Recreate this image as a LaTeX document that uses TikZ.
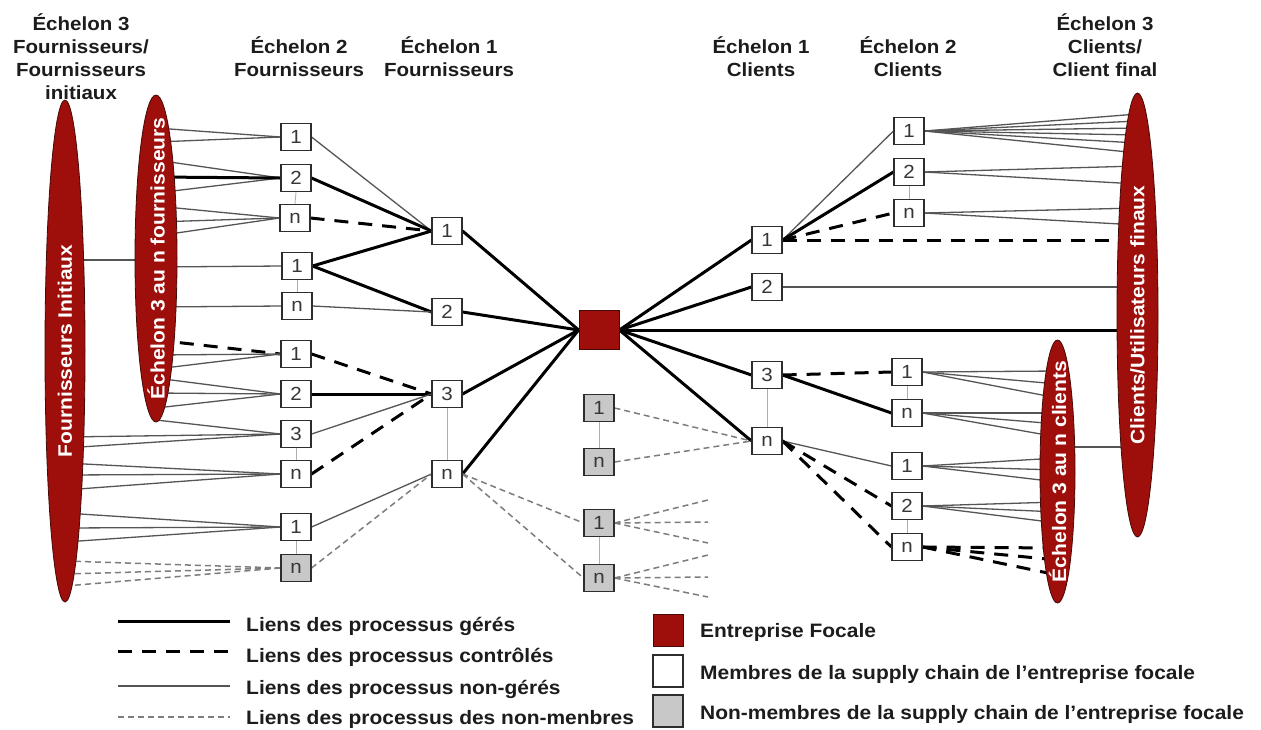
\documentclass[tikz,border=0pt]{standalone}
\usepackage{fontspec}
\setmainfont{Liberation Sans}[FakeStretch=1.08]
\usetikzlibrary{shapes.geometric}

\definecolor{focal}{RGB}{158,14,10}
\definecolor{lensline}{RGB}{70,10,8}
\definecolor{inktext}{RGB}{28,28,28}
\definecolor{numtext}{RGB}{55,55,55}
\definecolor{boxline}{RGB}{45,45,45}
\definecolor{grayfill}{RGB}{200,200,200}
\definecolor{thinc}{RGB}{85,85,85}
\definecolor{graydash}{RGB}{125,125,125}
\definecolor{tiec}{RGB}{175,175,175}

\newcommand\hdfont{\fontsize{19}{23}\selectfont\bfseries}
\newcommand\lgfont{\fontsize{19.4}{23}\selectfont\bfseries}
\newcommand\numfont{\fontsize{19}{23}\selectfont}
\newcommand\lensfont{\fontsize{19.5}{23}\selectfont\bfseries}

\pgfdeclarelayer{paper}
\pgfdeclarelayer{links}
\pgfsetlayers{paper,links,main}

% lines from several points of a lens into the west side of a box
\newcommand\fanin[4]{%
  \foreach \yy in {#4}{%
    \coordinate (aux) at (0,\yy);
    \coordinate (#1-\yy) at (#1.center |- aux);
    \draw[#3] (#1-\yy) -- (#2.west);
  }}
% lines from the east side of a box out to several points of a lens
\newcommand\fanout[4]{%
  \foreach \yy in {#4}{%
    \coordinate (aux) at (0,\yy);
    \coordinate (#2-\yy) at (#2.center |- aux);
    \draw[#3] (#1.east) -- (#2-\yy);
  }}

\begin{document}
\begin{tikzpicture}[x=1pt,y=-1pt,
  box/.style={draw=boxline, fill=white, line width=1.1pt, minimum width=30pt,
    minimum height=27pt, inner sep=0pt, font=\numfont, text=numtext},
  gbox/.style={box, fill=grayfill},
  lens/.style={ellipse, draw=lensline, fill=focal, line width=0.8pt, inner sep=0pt},
  lenslabel/.style={rotate=90, text=white, font=\lensfont, inner sep=0pt},
  header/.style={font=\hdfont, text=inktext, anchor=base, inner sep=0pt},
  legendtext/.style={font=\lgfont, text=inktext, anchor=base west, inner sep=0pt},
  managed/.style={line width=3pt, draw=black},
  controlled/.style={line width=3pt, draw=black, dash pattern=on 14pt off 10pt},
  unmanaged/.style={line width=1.3pt, draw=thinc},
  nonmember/.style={line width=1.5pt, draw=graydash, dash pattern=on 6pt off 4pt},
  tie/.style={line width=0.8pt, draw=tiec}]

\useasboundingbox (0,0) rectangle (1261,729);
\begin{pgfonlayer}{paper}
  \fill[white] (0,0) rectangle (1261,729);
\end{pgfonlayer}

% ---------- column headers ----------
\node[header] (h1a) at (81,30) {Échelon 3};
\node[header] (h1b) at (81,53) {Fournisseurs/};
\node[header] (h1c) at (81,76) {Fournisseurs};
\node[header] (h1d) at (81,99) {initiaux};
\node[header] (h2a) at (299,53) {Échelon 2};
\node[header] (h2b) at (299,76) {Fournisseurs};
\node[header] (h3a) at (449,53) {Échelon 1};
\node[header] (h3b) at (449,76) {Fournisseurs};
\node[header] (h4a) at (761,53) {Échelon 1};
\node[header] (h4b) at (761,76) {Clients};
\node[header] (h5a) at (908,53) {Échelon 2};
\node[header] (h5b) at (908,76) {Clients};
\node[header] (h6a) at (1105,30) {Échelon 3};
\node[header] (h6b) at (1105,53) {Clients/};
\node[header] (h6c) at (1105,76) {Client final};

% ---------- lenses ----------
\node[lens, minimum width=40pt, minimum height=502pt] (fi) at (65,351) {};
\node[lenslabel] (fi-t) at (fi.center) {Fournisseurs Initiaux};
\node[lens, minimum width=42pt, minimum height=327pt] (e3f) at (156,258.5) {};
\node[lenslabel] (e3f-t) at (e3f.center) {Échelon 3 au n fournisseurs};
\node[lens, minimum width=41pt, minimum height=444pt] (cu) at (1137.5,315) {};
\node[lenslabel] (cu-t) at (cu.center) {Clients/Utilisateurs finaux};
\node[lens, minimum width=35pt, minimum height=263pt] (e3c) at (1057.5,471.5) {};
\node[lenslabel] (e3c-t) at (e3c.center) {Échelon 3 au n clients};

% ---------- tier 2 suppliers ----------
\node[box] (s2a) at (296,137) {1};
\node[box] (s2b) at (296,178) {2};
\node[box] (s2c) at (295,218) {n};
\node[box] (s2d) at (297,266) {1};
\node[box] (s2e) at (297,306) {n};
\node[box] (s2f) at (296,354) {1};
\node[box] (s2g) at (296,394) {2};
\node[box] (s2h) at (296,434) {3};
\node[box] (s2i) at (296,474) {n};
\node[box] (s2j) at (296,527) {1};
\node[gbox] (s2k) at (296,568) {n};

% ---------- tier 1 suppliers ----------
\node[box] (s1a) at (447,231) {1};
\node[box] (s1b) at (447,312) {2};
\node[box] (s1c) at (447,394) {3};
\node[box] (s1d) at (447,474) {n};

% ---------- focal company ----------
\node[draw=lensline, fill=focal, line width=0.8pt, minimum width=40pt, minimum height=39pt, inner sep=0pt] (focal) at (599,330) {};

% ---------- non-members ----------
\node[gbox] (g1) at (599,408) {1};
\node[gbox] (g2) at (599,462) {n};
\node[gbox] (g3) at (599,523) {1};
\node[gbox] (g4) at (599,578) {n};

% ---------- tier 1 customers ----------
\node[box] (c1a) at (767,240) {1};
\node[box] (c1b) at (767,287) {2};
\node[box] (c1c) at (767,375) {3};
\node[box] (c1d) at (767,441) {n};

% ---------- tier 2 customers ----------
\node[box] (c2a) at (909,131) {1};
\node[box] (c2b) at (909,172) {2};
\node[box] (c2c) at (909,213) {n};
\node[box] (c2d) at (907,372) {1};
\node[box] (c2e) at (907,413) {n};
\node[box] (c2f) at (907,466) {1};
\node[box] (c2g) at (907,506) {2};
\node[box] (c2h) at (907,547) {n};

% ---------- free ends of the non-member fans ----------
\coordinate (o1) at (708,500);
\coordinate (o2) at (708,522);
\coordinate (o3) at (708,543);
\coordinate (o4) at (708,555);
\coordinate (o5) at (708,577);
\coordinate (o6) at (708,597);

\begin{pgfonlayer}{links}
  % group ties
  \foreach \a/\b in {s2b/s2c, s2d/s2e, s2h/s2i, s2j/s2k, s1c/s1d, g1/g2, g3/g4,
                     c1c/c1d, c2b/c2c, c2d/c2e, c2g/c2h}
    \draw[tie] (\a.south) -- (\b.north);

  % tier 3 suppliers to tier 2
  \fanin{e3f}{s2a}{unmanaged}{128,142}
  \fanin{e3f}{s2b}{unmanaged}{160,193}
  \fanin{e3f}{s2b}{managed}{177}
  \fanin{e3f}{s2c}{unmanaged}{206,222,236}
  \fanin{e3f}{s2d}{unmanaged}{267}
  \fanin{e3f}{s2e}{unmanaged}{307}
  \fanin{e3f}{s2f}{controlled}{340}
  \fanin{e3f}{s2f}{unmanaged}{355,369}
  \fanin{e3f}{s2g}{unmanaged}{378,393,408}
  \fanin{e3f}{s2h}{unmanaged}{420}
  \fanin{fi}{s2h}{unmanaged}{437,448}
  \fanin{fi}{s2i}{unmanaged}{463,475,490}
  \fanin{fi}{s2j}{unmanaged}{513,528,542}
  \fanin{fi}{s2k}{nonmember}{561,574,586}
  \coordinate (aux) at (0,260);
  \coordinate (fi-260) at (fi.center |- aux);
  \coordinate (e3f-260) at (e3f.center |- aux);
  \draw[unmanaged] (fi-260) -- (e3f-260);

  % tier 2 to tier 1 suppliers
  \draw[unmanaged]  (s2a.east) -- (s1a.west);
  \draw[managed]    (s2b.east) -- (s1a.west);
  \draw[controlled] (s2c.east) -- (s1a.west);
  \draw[managed]    (s2d.east) -- (s1a.west);
  \draw[managed]    (s2d.east) -- (s1b.west);
  \draw[unmanaged]  (s2e.east) -- (s1b.west);
  \draw[controlled] (s2f.east) -- (s1c.west);
  \draw[managed]    (s2g.east) -- (s1c.west);
  \draw[unmanaged]  (s2h.east) -- (s1c.west);
  \draw[controlled] (s2i.east) -- (s1c.west);
  \draw[unmanaged]  (s2j.east) -- (s1d.west);
  \draw[nonmember]  (s2k.east) -- (s1d.west);

  % tier 1 suppliers to focal company to tier 1 customers
  \foreach \s in {s1a,s1b,s1c,s1d} \draw[managed] (\s.east) -- (focal.west);
  \foreach \c in {c1a,c1b,c1c,c1d} \draw[managed] (focal.east) -- (\c.west);

  % non-member links
  \draw[nonmember] (s1d.east) -- (g3.west);
  \draw[nonmember] (s1d.east) -- (g4.west);
  \draw[nonmember] (g1.east) -- (c1d.west);
  \draw[nonmember] (g2.east) -- (c1d.west);
  \foreach \p in {o1,o2,o3} \draw[nonmember] (g3.east) -- (\p);
  \foreach \p in {o4,o5,o6} \draw[nonmember] (g4.east) -- (\p);

  % tier 1 to tier 2 customers
  \draw[unmanaged]  (c1a.east) -- (c2a.west);
  \draw[managed]    (c1a.east) -- (c2b.west);
  \draw[controlled] (c1a.east) -- (c2c.west);
  \draw[controlled] (c1c.east) -- (c2d.west);
  \draw[managed]    (c1c.east) -- (c2e.west);
  \draw[unmanaged]  (c1d.east) -- (c2f.west);
  \draw[controlled] (c1d.east) -- (c2g.west);
  \draw[controlled] (c1d.east) -- (c2h.west);

  % customers to the end users and to tier 3 customers
  \fanout{c2a}{cu}{unmanaged}{114,121,128,135,143,153}
  \fanout{c2b}{cu}{unmanaged}{166,184}
  \fanout{c2c}{cu}{unmanaged}{208,225}
  \fanout{c1a}{cu}{controlled}{240}
  \fanout{c1b}{cu}{unmanaged}{287}
  \fanout{focal}{cu}{managed}{330}
  \fanout{c2d}{e3c}{unmanaged}{371,384,398}
  \fanout{c2e}{e3c}{unmanaged}{413,424,437}
  \fanout{c2f}{e3c}{unmanaged}{458,470,482}
  \fanout{c2g}{e3c}{unmanaged}{502,512,523}
  \fanout{c2h}{e3c}{controlled}{548,560,575}
  \coordinate (aux) at (0,447);
  \coordinate (e3c-447) at (e3c.center |- aux);
  \coordinate (cu-447) at (cu.center |- aux);
  \draw[unmanaged] (e3c-447) -- (cu-447);
\end{pgfonlayer}

% ---------- legend: link kinds ----------
\coordinate (l1a) at (118,621); \coordinate (l1b) at (230,621);
\coordinate (l2a) at (118,651); \coordinate (l2b) at (230,651);
\coordinate (l3a) at (118,686); \coordinate (l3b) at (230,686);
\coordinate (l4a) at (118,717); \coordinate (l4b) at (230,717);
\draw[managed]    (l1a) -- (l1b);
\draw[controlled] (l2a) -- (l2b);
\draw[unmanaged]  (l3a) -- (l3b);
\draw[nonmember]  (l4a) -- (l4b);
\node[legendtext] (t1) at (246,631) {Liens des processus gérés};
\node[legendtext] (t2) at (246,662) {Liens des processus contrôlés};
\node[legendtext] (t3) at (246,694) {Liens des processus non-gérés};
\node[legendtext] (t4) at (246,724) {Liens des processus des non-menbres};

% ---------- legend: member kinds ----------
\node[draw=lensline, fill=focal, line width=0.8pt, minimum width=30pt, minimum height=32pt, inner sep=0pt] (k1) at (668,630) {};
\node[draw=boxline, fill=white, line width=1.1pt, minimum width=30pt, minimum height=32pt, inner sep=0pt] (k2) at (668,671) {};
\node[draw=boxline, fill=grayfill, line width=1.1pt, minimum width=30pt, minimum height=32pt, inner sep=0pt] (k3) at (668,711) {};
\node[legendtext] (k1t) at (700,637) {Entreprise Focale};
\node[legendtext] (k2t) at (700,679) {Membres de la supply chain de l’entreprise focale};
\node[legendtext] (k3t) at (700,719) {Non-membres de la supply chain de l’entreprise focale};

\end{tikzpicture}
\end{document}
